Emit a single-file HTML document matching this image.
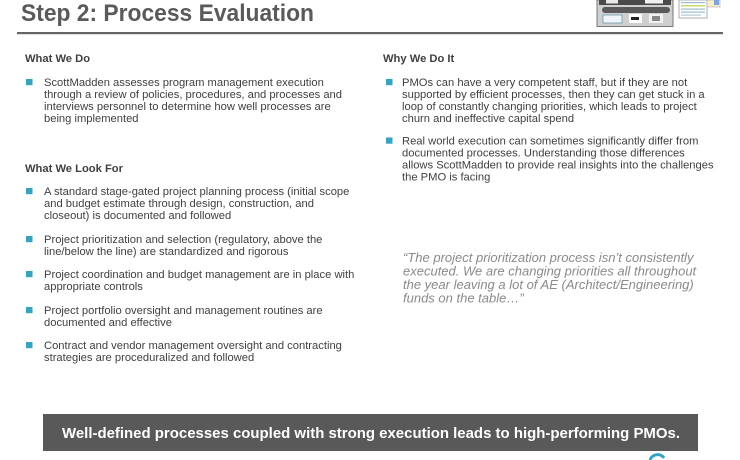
<!DOCTYPE html>
<html><head><meta charset="utf-8"><style>
html,body{margin:0;padding:0;background:#fff;}
svg{display:block;}
text{font-family:"Liberation Sans",Arial,sans-serif;}
.b{font-size:11.2px;fill:#404040;}
.h{font-size:11.2px;font-weight:bold;fill:#404040;}
.q{font-size:13px;font-style:italic;fill:#8a8a8a;}
</style></head><body>
<svg width="740" height="460" viewBox="0 0 740 460" xmlns="http://www.w3.org/2000/svg">
<rect width="740" height="460" fill="#fff"/>
<!-- title -->
<text x="21" y="21" font-size="24.5" font-weight="bold" fill="#5a5a5a" textLength="293" lengthAdjust="spacingAndGlyphs">Step 2: Process Evaluation</text>
<rect x="17" y="32" width="706" height="2.2" fill="#666"/>
<!-- top-right thumbnail collage -->
<g>
<rect x="597" y="0" width="76" height="26.5" fill="#cfcfcf" stroke="#7a7a7a" stroke-width="1"/>
<rect x="599" y="0" width="72" height="5" fill="#4a4a4a"/>
<rect x="606" y="0" width="12" height="3.5" fill="#e8e8e8"/>
<rect x="645" y="0" width="18" height="3.5" fill="#f0f0f0"/>
<rect x="602" y="7" width="68" height="6" rx="3" fill="#5a5a5a"/>
<rect x="603" y="15" width="19" height="8" fill="#eef4f8" stroke="#6b9ab0" stroke-width="0.8"/>
<rect x="629" y="14" width="13" height="9" fill="#fff"/>
<rect x="631" y="17" width="8" height="3" fill="#222"/>
<rect x="649" y="14" width="14" height="9" fill="#f4f0f0"/>
<rect x="652" y="16" width="8" height="5" fill="#888"/>
<rect x="679" y="0" width="28" height="18" fill="#fff" stroke="#999" stroke-width="0.8"/>
<rect x="681" y="2" width="24" height="1.2" fill="#9bbbd0"/>
<rect x="681" y="5" width="24" height="1.5" fill="#c8d86a"/>
<rect x="681" y="8.5" width="24" height="1.2" fill="#9bbbd0"/>
<rect x="681" y="11.5" width="24" height="1.2" fill="#9bbbd0"/>
<rect x="681" y="14.5" width="20" height="1.2" fill="#b0c8d8"/>
<rect x="707" y="0" width="13" height="7" fill="#f6f0c8" stroke="#aab" stroke-width="0.6"/>
<rect x="714" y="0" width="5" height="5" fill="#7fa3d8"/>
</g>
<!-- left column -->
<text class="h" x="25" y="62">What We Do</text>
<rect x="26" y="79" width="6.5" height="6.2" fill="#37a3bf"/>
<text class="b" x="44" y="86">ScottMadden assesses program management execution</text>
<text class="b" x="44" y="98" textLength="298" lengthAdjust="spacing">through a review of policies, procedures, and processes and</text>
<text class="b" x="44" y="110">interviews personnel to determine how well processes are</text>
<text class="b" x="44" y="122">being implemented</text>

<text class="h" x="25" y="172">What We Look For</text>
<rect x="26" y="188" width="6.5" height="6.2" fill="#37a3bf"/>
<text class="b" x="44" y="195">A standard stage-gated project planning process (initial scope</text>
<text class="b" x="44" y="207">and budget estimate through design, construction, and</text>
<text class="b" x="44" y="219">closeout) is documented and followed</text>
<rect x="26" y="236" width="6.5" height="6.2" fill="#37a3bf"/>
<text class="b" x="44" y="243">Project prioritization and selection (regulatory, above the</text>
<text class="b" x="44" y="255">line/below the line) are standardized and rigorous</text>
<rect x="26" y="271" width="6.5" height="6.2" fill="#37a3bf"/>
<text class="b" x="44" y="278">Project coordination and budget management are in place with</text>
<text class="b" x="44" y="290">appropriate controls</text>
<rect x="26" y="307" width="6.5" height="6.2" fill="#37a3bf"/>
<text class="b" x="44" y="314">Project portfolio oversight and management routines are</text>
<text class="b" x="44" y="326">documented and effective</text>
<rect x="26" y="342" width="6.5" height="6.2" fill="#37a3bf"/>
<text class="b" x="44" y="349">Contract and vendor management oversight and contracting</text>
<text class="b" x="44" y="361">strategies are proceduralized and followed</text>

<!-- right column -->
<text class="h" x="383" y="62">Why We Do It</text>
<rect x="386" y="79" width="6.5" height="6.2" fill="#37a3bf"/>
<text class="b" x="402" y="86">PMOs can have a very competent staff, but if they are not</text>
<text class="b" x="402" y="98">supported by efficient processes, then they can get stuck in a</text>
<text class="b" x="402" y="110">loop of constantly changing priorities, which leads to project</text>
<text class="b" x="402" y="122">churn and ineffective capital spend</text>
<rect x="386" y="137.5" width="6.5" height="6.2" fill="#37a3bf"/>
<text class="b" x="402" y="144.5">Real world execution can sometimes significantly differ from</text>
<text class="b" x="402" y="156.5">documented processes. Understanding those differences</text>
<text class="b" x="402" y="168.5">allows ScottMadden to provide real insights into the challenges</text>
<text class="b" x="402" y="180.5">the PMO is facing</text>

<!-- quote -->
<text class="q" x="403" y="262">“The project prioritization process isn’t consistently</text>
<text class="q" x="403" y="275.5">executed. We are changing priorities all throughout</text>
<text class="q" x="403" y="289">the year leaving a lot of AE (Architect/Engineering)</text>
<text class="q" x="403" y="302.5">funds on the table…”</text>

<!-- banner -->
<rect x="43" y="414" width="655" height="37" fill="#595959"/>
<text x="371" y="438" text-anchor="middle" font-size="15" font-weight="bold" fill="#fff" textLength="618" lengthAdjust="spacingAndGlyphs">Well-defined processes coupled with strong execution leads to high-performing PMOs.</text>

<!-- bottom-right logo fragment -->
<path d="M650 460 A8 8 0 0 1 664 458" fill="none" stroke="#37a3bf" stroke-width="3"/>
</svg>
</body></html>
